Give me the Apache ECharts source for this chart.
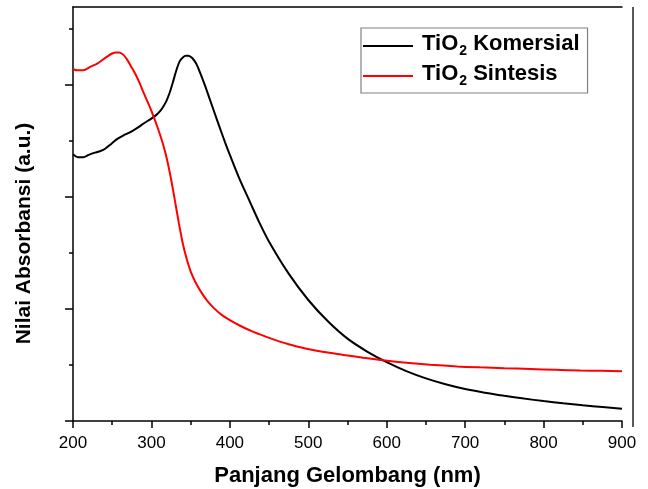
<!DOCTYPE html>
<html>
<head>
<meta charset="utf-8">
<script src="https://cdn.jsdelivr.net/npm/echarts@6/dist/echarts.min.js"></script>
<style>html,body{margin:0;padding:0;background:#fff}#c{width:648px;height:489px}</style>
</head>
<body>
<div id="c"></div>
<script>
// Wavelength (nm) and absorbance (a.u.)
const komersialWl = [200,206,213,220,228,235,241,249,257,266,276,284,291,299,306,311,315,319,323,327,332,336,340,344,347,352,357,362,368,374,380,387,394,400,412,425,437,450,475,500,525,550,575,600,625,650,675,700,725,750,775,800,825,850,875,900];
const komersialAbs = [4.76,4.71,4.71,4.75,4.79,4.82,4.86,4.95,5.04,5.11,5.18,5.25,5.32,5.39,5.46,5.53,5.61,5.71,5.85,6.03,6.27,6.42,6.49,6.52,6.52,6.48,6.38,6.22,6.00,5.76,5.52,5.24,4.97,4.75,4.33,3.93,3.56,3.20,2.63,2.16,1.78,1.47,1.24,1.05,0.89,0.76,0.655,0.57,0.505,0.45,0.40,0.355,0.315,0.28,0.25,0.22];
const sintesisWl = [200,206,213,222,232,242,250,255,259,264,269,274,280,285,290,296,301,306,311,315,320,325,330,335,340,345,350,356,363,371,380,390,400,413,430,451,475,498,520,545,570,598,625,655,690,719,750,783,815,847,875,900];
const sintesisAbs = [6.28,6.26,6.26,6.32,6.39,6.49,6.56,6.58,6.58,6.54,6.45,6.33,6.18,6.03,5.86,5.67,5.50,5.31,5.11,4.93,4.66,4.32,3.93,3.53,3.17,2.89,2.67,2.48,2.31,2.15,2.01,1.89,1.80,1.70,1.59,1.48,1.37,1.29,1.23,1.18,1.13,1.08,1.04,1.005,0.975,0.958,0.943,0.928,0.914,0.902,0.895,0.89];
const xTicks = [200,300,400,500,600,700,800,900];
const yMajorTicks = [0,2,4,6];
const yMinorTicks = [1,3,5,7];
const seriesNames = ['TiO2 Komersial','TiO2 Sintesis'];

const FONT = '"Liberation Sans", Arial, sans-serif';
const pair = (xs, ys) => xs.map((x, i) => [x, ys[i]]);

const chart = echarts.init(document.getElementById('c'), null, {renderer:'canvas'});
chart.setOption({
  animation: false,
  backgroundColor: '#fff',
  grid: {left: 73, right: 26, top: 7, bottom: 68, containLabel: false, outerBoundsMode: 'none'},
  legend: {
    left: 361, top: 28, orient: 'vertical',
    data: seriesNames,
    icon: 'rect', itemWidth: 50, itemHeight: 2, itemGap: 5,
    padding: [5, 8, 5, 2],
    borderColor: '#808080', borderWidth: 1.2,
    textStyle: {
      color: '#000', fontFamily: FONT,
      rich: {
        m: {fontSize: 22, fontWeight: 'bold', fontFamily: FONT, color: '#000', verticalAlign: 'bottom', lineHeight: 24, padding: [0,0,3,0]},
        f: {fontSize: 22, fontWeight: 'bold', fontFamily: FONT, color: '#000', verticalAlign: 'bottom', lineHeight: 24, padding: [0,0,3,4]},
        s: {fontSize: 14, fontWeight: 'bold', fontFamily: FONT, color: '#000', verticalAlign: 'bottom', lineHeight: 14, padding: [0,0,0,1]}
      }
    },
    formatter: function (name) {
      const rest = name.substring(4);
      return '{f|TiO}{s|2}{m|' + rest + '}';
    }
  },
  xAxis: [{
    type: 'value', min: 200, max: 900, interval: 100,
    position: 'bottom',
    name: 'Panjang Gelombang (nm)', nameLocation: 'middle', nameGap: 44,
    nameTextStyle: {fontFamily: FONT, fontSize: 22, fontWeight: 'bold', color: '#000'},
    axisLine: {show: true, onZero: false, lineStyle: {color: '#000', width: 1.5}},
    axisTick: {show: true, inside: false, length: 7, lineStyle: {color: '#000', width: 1.5}, customValues: xTicks},
    minorTick: {show: true, splitNumber: 2, length: 4, lineStyle: {color: '#000', width: 1.5}},
    axisLabel: {show: true, margin: 14, fontFamily: FONT, fontSize: 17, color: '#000', customValues: xTicks},
    splitLine: {show: false}
  }, {
    type: 'value', min: 200, max: 900, position: 'top',
    axisLine: {show: true, onZero: false, lineStyle: {color: '#000', width: 1.5}},
    axisTick: {show: false}, axisLabel: {show: false}, splitLine: {show: false}
  }],
  yAxis: [{
    type: 'value', min: 0, max: 7.39, position: 'left',
    name: 'Nilai Absorbansi (a.u.)', nameLocation: 'middle', nameGap: 38,
    nameTextStyle: {fontFamily: FONT, fontSize: 21, fontWeight: 'bold', color: '#000', padding: [0, 39, 0, 0]},
    axisLine: {show: true, onZero: false, lineStyle: {color: '#000', width: 1.5}},
    axisTick: {show: true, inside: false, length: 8, lineStyle: {color: '#000', width: 1.5}, customValues: yMajorTicks},
    axisLabel: {show: false},
    splitLine: {show: false}
  }, {
    type: 'value', min: 0, max: 7.39, position: 'left',
    axisLine: {show: false},
    axisTick: {show: true, inside: false, length: 4, lineStyle: {color: '#000', width: 1.5}, customValues: yMinorTicks},
    axisLabel: {show: false}, splitLine: {show: false}
  }],
  graphic: [{
    type: 'line', silent: true,
    shape: {x1: 633, y1: 7, x2: 633, y2: 427},
    style: {stroke: '#222', lineWidth: 1.5}
  }],
  series: [{
    name: seriesNames[0], type: 'line', xAxisIndex: 0, yAxisIndex: 0,
    data: pair(komersialWl, komersialAbs),
    showSymbol: false, smooth: 0.3,
    lineStyle: {color: '#000', width: 2}, itemStyle: {color: '#000'}
  }, {
    name: seriesNames[1], type: 'line', xAxisIndex: 0, yAxisIndex: 0,
    data: pair(sintesisWl, sintesisAbs),
    showSymbol: false, smooth: 0.3,
    lineStyle: {color: '#ff0000', width: 2}, itemStyle: {color: '#ff0000'}
  }]
});
</script>
</body>
</html>
